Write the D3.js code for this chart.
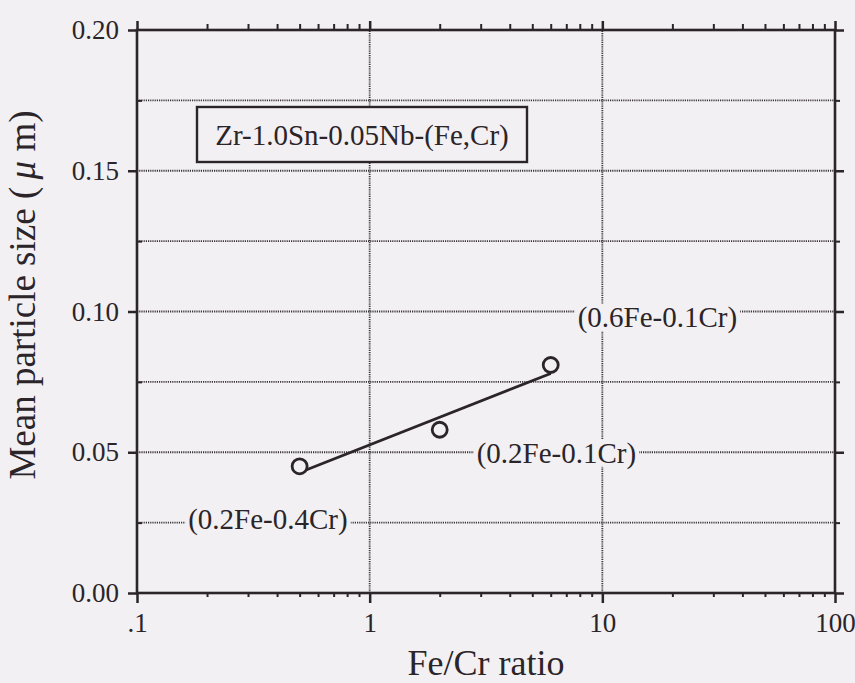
<!DOCTYPE html>
<html>
<head>
<meta charset="utf-8">
<script src="https://cdn.jsdelivr.net/npm/d3@7"></script>
<style>
  html, body { margin: 0; padding: 0; background: #f2f0f2; }
  svg { display: block; }
</style>
</head>
<body>
<svg id="chart" width="855" height="683"></svg>
<script>
// Measured particle sizes for the Zr-1.0Sn-0.05Nb-(Fe,Cr) alloys
const feCrRatio = [0.5, 2, 6];
const meanSize = [0.045, 0.058, 0.081];
const alloyLabels = ["(0.2Fe-0.4Cr)", "(0.2Fe-0.1Cr)", "(0.6Fe-0.1Cr)"];

// Trend line end points
const fitRatio = [0.5, 6];
const fitSize = [0.0428, 0.0780];

// Axis ticks
const xMajorTicks = [0.1, 1, 10, 100];
const xTickLabels = [".1", "1", "10", "100"];
const yMajorTicks = [0, 0.05, 0.10, 0.15, 0.20];
const yTickLabels = ["0.00", "0.05", "0.10", "0.15", "0.20"];
const yMinorTicks = [0.025, 0.075, 0.125, 0.175];
const yGridValues = [0.025, 0.05, 0.075, 0.10, 0.125, 0.15, 0.175];
const xGridValues = [1, 10];

const ink = "#2b2429";
const paper = "#f2f0f2";
const serif = "'Liberation Serif', 'Times New Roman', Times, serif";

const svg = d3.select("#chart");
const margin = { left: 137, right: 20, top: 30, bottom: 90 };
const W = 855, H = 683;

const x = d3.scaleLog().domain([0.1, 100]).range([margin.left, W - margin.right]);
const y = d3.scaleLinear().domain([0, 0.2]).range([H - margin.bottom, margin.top]);
const [x0, x1] = x.range();
const [y0, y1] = y.range();

// minor decade ticks 2..9 within each decade
const xMinorTicks = [];
[0.1, 1, 10].forEach(d => { for (let k = 2; k <= 9; k++) xMinorTicks.push(d * k); });

// gridlines (dotted)
const grid = svg.append("g").attr("stroke", "#3d353b").attr("stroke-width", 1.8)
  .attr("stroke-dasharray", "1.2,1");
grid.selectAll("line.h").data(yGridValues).join("line").attr("class", "h")
  .attr("x1", x0).attr("x2", x1).attr("y1", d => y(d)).attr("y2", d => y(d));
grid.selectAll("line.v").data(xGridValues).join("line").attr("class", "v")
  .attr("x1", d => x(d)).attr("x2", d => x(d)).attr("y1", y0).attr("y2", y1);

// axes
function styleAxis(g, width) {
  g.select(".domain").remove();
  g.selectAll("line").attr("stroke", ink).attr("stroke-width", width);
  g.selectAll("text").attr("fill", ink).style("font-family", serif).style("font-size", "27px");
}

svg.append("g").attr("transform", `translate(0,${y0})`)
  .call(d3.axisBottom(x).tickValues(xMinorTicks).tickSize(4).tickFormat(""))
  .call(g => styleAxis(g, 2));
svg.append("g").attr("transform", `translate(0,${y0})`)
  .call(d3.axisBottom(x).tickValues(xMajorTicks).tickSize(10).tickPadding(10)
    .tickFormat((d, i) => xTickLabels[i]))
  .call(g => styleAxis(g, 2.5));

svg.append("g").attr("transform", `translate(0,${y1})`)
  .call(d3.axisTop(x).tickValues(xMinorTicks).tickSize(6).tickFormat(""))
  .call(g => styleAxis(g, 2));
svg.append("g").attr("transform", `translate(0,${y1})`)
  .call(d3.axisTop(x).tickValues(xMajorTicks).tickSize(9).tickFormat(""))
  .call(g => styleAxis(g, 2.5));

svg.append("g").attr("transform", `translate(${x0},0)`)
  .call(d3.axisLeft(y).tickValues(yMajorTicks).tickSize(9).tickPadding(9)
    .tickFormat((d, i) => yTickLabels[i]))
  .call(g => styleAxis(g, 2.5));
svg.append("g").attr("transform", `translate(${x0},0)`)
  .call(d3.axisRight(y).tickValues(yMinorTicks).tickSize(5).tickFormat(""))
  .call(g => styleAxis(g, 2));

svg.append("g").attr("transform", `translate(${x1},0)`)
  .call(d3.axisRight(y).tickValues(yMajorTicks).tickSize(9).tickFormat(""))
  .call(g => styleAxis(g, 2.5));
svg.append("g").attr("transform", `translate(${x1},0)`)
  .call(d3.axisRight(y).tickValues(yMinorTicks).tickSize(5).tickFormat(""))
  .call(g => styleAxis(g, 2));

// plot frame
svg.append("rect").attr("x", x0).attr("y", y1).attr("width", x1 - x0).attr("height", y0 - y1)
  .attr("fill", "none").attr("stroke", ink).attr("stroke-width", 2.6);

// alloy label box
const boxG = svg.append("g");
boxG.append("rect").attr("x", 197).attr("y", 107).attr("width", 330).attr("height", 55)
  .attr("fill", paper).attr("stroke", ink).attr("stroke-width", 2.4);
boxG.append("text").attr("x", 362).attr("y", 135).attr("text-anchor", "middle")
  .attr("dominant-baseline", "central").attr("fill", ink)
  .style("font-family", serif).style("font-size", "29px")
  .text("Zr-1.0Sn-0.05Nb-(Fe,Cr)");

// point labels, placed beside each marker
const labelPlacement = [
  { anchor: "end", dx: 48, dy: 53 },
  { anchor: "start", dx: 37, dy: 23 },
  { anchor: "start", dx: 27, dy: -48 }
];
const labG = svg.append("g");
alloyLabels.forEach((lab, i) => {
  const p = labelPlacement[i];
  const t = labG.append("text")
    .attr("x", x(feCrRatio[i]) + p.dx).attr("y", y(meanSize[i]) + p.dy)
    .attr("text-anchor", p.anchor).attr("dominant-baseline", "central")
    .attr("fill", ink).style("font-family", serif).style("font-size", "29px").text(lab);
  const bb = t.node().getBBox();
  labG.insert("rect", () => t.node())
    .attr("x", bb.x - 3).attr("y", bb.y + 3).attr("width", bb.width + 6).attr("height", bb.height - 6)
    .attr("fill", paper);
});

// trend line
svg.append("line")
  .attr("x1", x(fitRatio[0])).attr("y1", y(fitSize[0]))
  .attr("x2", x(fitRatio[1])).attr("y2", y(fitSize[1]))
  .attr("stroke", ink).attr("stroke-width", 2.8);

// markers
svg.append("g").selectAll("circle").data(feCrRatio).join("circle")
  .attr("cx", d => x(d)).attr("cy", (d, i) => y(meanSize[i])).attr("r", 7.5)
  .attr("fill", paper).attr("stroke", ink).attr("stroke-width", 2.8);

// axis titles
svg.append("text").attr("x", 486).attr("y", 675).attr("text-anchor", "middle")
  .attr("fill", ink).style("font-family", serif).style("font-size", "36px")
  .text("Fe/Cr ratio");
const yt = svg.append("text").attr("transform", "translate(35,295) rotate(-90)")
  .attr("text-anchor", "middle").attr("fill", ink)
  .style("font-family", serif).style("font-size", "37px");
yt.append("tspan").text("Mean particle size (\u2009");
yt.append("tspan").attr("font-style", "italic").text("μ");
yt.append("tspan").text(" m)");
</script>
</body>
</html>
